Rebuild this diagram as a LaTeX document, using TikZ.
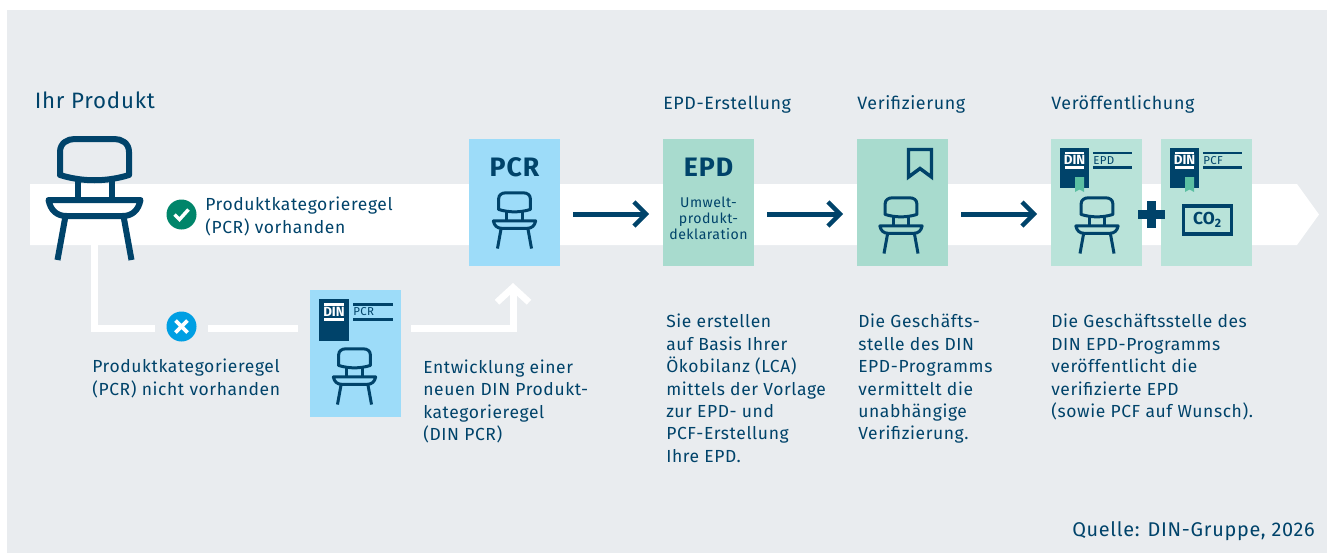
\documentclass[tikz,border=0pt]{standalone}
\usepackage{fontspec}
\setmainfont{Fira Sans}
\newfontfamily\din[LetterSpace=3.5]{Fira Sans}
\usetikzlibrary{arrows.meta}
\definecolor{din}{HTML}{00436A}
\definecolor{panel}{HTML}{E9ECEF}
\definecolor{sky}{HTML}{9DDCF9}
\definecolor{mint}{HTML}{A8DBCE}
\definecolor{palemint}{HTML}{B9E3D9}
\definecolor{tabgreen}{HTML}{5BBFA2}
\definecolor{okgreen}{HTML}{00856A}
\definecolor{nogblue}{HTML}{009FE3}
\tikzset{
  card/.style={minimum width=68.25pt,minimum height=95.25pt,inner sep=0pt,anchor=north west},
  head/.style={anchor=base west,inner sep=0pt,text=din,font=\din\fontsize{13.4}{16}\selectfont},
  copytext/.style={anchor=north west,inner sep=0pt,align=left,text=din,font=\din\fontsize{13.1}{16.8}\selectfont},
  bigtag/.style={inner sep=0pt,text=din,font=\din\fontsize{20}{24}\selectfont\bfseries},
  status/.style={circle,minimum size=22.5pt,inner sep=0pt},
  flowarrow/.style={draw=din,line width=3.75pt,-{Straight Barb[length=9pt,width=18pt,line width=3.2pt]}},
  branch/.style={draw=white,line width=5.25pt},
  pics/chair/.style={code={
    \draw[din,line join=round] (-34.5,39) -- (-34.5,16) .. controls (-34.5,7) and (-27,3) .. (-20,3) -- (20,3)
      .. controls (27,3) and (34.5,7) .. (34.5,16) -- (34.5,39) .. controls (12,46) and (-12,46) .. cycle;
    \draw[din] (-17,43) -- (-17,64) (17,43) -- (17,64);
    \draw[din,line join=round] (-46,64) -- (46,64) .. controls (44,74) and (38,80) .. (28,80) -- (-28,80)
      .. controls (-38,80) and (-44,74) .. cycle;
    \draw[din] (-29,80) -- (-37,124) (29,80) -- (37,124);
  }},
  pics/dinbadge/.style={code={
    \fill[din] (0,0) rectangle (30,42);
    \draw[white,line width=1.6pt] (5,5.5) -- (25,5.5) (5,20.5) -- (25,20.5);
    \draw[din,line width=1.6pt] (34,5.5) -- (74,5.5) (34,20.5) -- (74,20.5);
    \node[inner sep=0pt,text=white,font=\fontsize{10}{10}\selectfont\bfseries] (-din) at (15,13) {DIN};
    \node[anchor=west,inner sep=0pt,text=din,font=\din\fontsize{8.6}{9}\selectfont] (-tag) at (34,13) {#1};
  }},
  pics/doctab/.style={code={
    \fill[tabgreen] (0,0) -- (9,0) -- (9,15) -- (4.5,12.5) -- (0,15) -- cycle;
  }}
}
\begin{document}
\begin{tikzpicture}[x=.75pt,y=-.75pt]
\useasboundingbox (0,0) rectangle (1327,553);
\fill[panel] (7,10) rectangle (1327,553);
\fill[white] (30,184) -- (1297,184) -- (1319,214.5) -- (1297,245) -- (30,245) -- cycle;
% points on the white branch
\coordinate (b1) at (94.5,245);
\coordinate (b2) at (155,328);
\coordinate (b3) at (208,328);
\coordinate (b4) at (298,328);
\coordinate (b5) at (411,328);
\coordinate (b6) at (513,283);
\draw[branch] (b1) |- (b2);
\draw[branch] (b3) -- (b4);
\draw[branch,-{Straight Barb[length=11pt,width=24pt,line width=5pt]}] (b5) -| (b6);
% cards
\node[card,fill=sky] (pcr) at (469,139) {};
\node[card,fill=mint] (epd) at (663,139) {};
\node[card,fill=mint] (veri) at (857,139) {};
\node[card,fill=palemint] (pub1) at (1051,139) {};
\node[card,fill=palemint] (pub2) at (1161,139) {};
\node[card,fill=sky] (newpcr) at (310,290) {};
% arrows between the cards
\coordinate (a1) at (573,214);
\coordinate (a2) at (649,214);
\coordinate (a3) at (767,214);
\coordinate (a4) at (843,214);
\coordinate (a5) at (961,214);
\coordinate (a6) at (1037,214);
\draw[flowarrow] (a1) -- (a2);
\draw[flowarrow] (a3) -- (a4);
\draw[flowarrow] (a5) -- (a6);
% chairs
\pic[line width=4.5pt] at (94.5,136) {chair};
\pic[scale=.46,line width=2.25pt] at (514.5,191.5) {chair};
\pic[scale=.46,line width=2.25pt] at (901,196.5) {chair};
\pic[scale=.46,line width=2.25pt] at (1097,196.5) {chair};
\pic[scale=.46,line width=2.25pt] at (354.5,347.5) {chair};
% status marks
\node[status,fill=okgreen] (yes) at (181.5,214.5) {};
\draw[white,line width=2.6pt] (174.5,214.5) -- (179.5,219.5) -- (188.5,209.5);
\node[status,fill=nogblue] (no) at (181.5,326.5) {};
\draw[white,line width=2.8pt] (175.5,320.5) -- (187.5,332.5) (187.5,320.5) -- (175.5,332.5);
% headings
\node[head,font=\din\fontsize{16.7}{20}\selectfont] (product) at (34.5,108) {Ihr Produkt};
\node[head] (h1) at (663,109) {EPD-Erstellung};
\node[head] (h2) at (857,109) {Verifizierung};
\node[head] (h3) at (1051,109) {Veröffentlichung};
% card contents
\node[bigtag] (pcrtag) at (514.5,167) {PCR};
\node[bigtag] (epdtag) at (708.5,167) {EPD};
\node[inner sep=0pt,align=center,text=din,font=\din\fontsize{10.6}{12}\selectfont] (epdtext) at (708.5,218) {Umwelt-\\produkt-\\deklaration};
\draw[din,line width=2.6pt] (908.5,149.5) -- (931.5,149.5) -- (931.5,177) -- (920,168.5) -- (908.5,177) -- cycle;
\pic (doc0) at (319,299) {dinbadge=PCR};
\pic[xscale=.97,yscale=.95] (doc1) at (1060,148) {dinbadge=EPD};
\pic[xscale=.97,yscale=.95] (doc2) at (1170,148) {dinbadge=PCF};
\pic at (1075,177) {doctab};
\pic at (1185,177) {doctab};
% plus and co2
\draw[din,line width=6.5pt] (1138,214.5) -- (1165,214.5) (1151.5,201) -- (1151.5,228);
\node[draw=din,line width=2.6pt,minimum width=36pt,minimum height=21pt,inner sep=0pt,text=din,font=\fontsize{13}{15}\selectfont\bfseries] (co2) at (1207.5,220) {CO\textsubscript{2}};
% texts
\node[copytext] (t1) at (205,197) {Produktkategorieregel\\(PCR) vorhanden};
\node[copytext] (t2) at (92,359) {Produktkategorieregel\\(PCR) nicht vorhanden};
\node[copytext] (t3) at (423,359.5) {Entwicklung einer\\neuen DIN Produkt-\\kategorieregel\\(DIN PCR)};
\node[copytext] (t4) at (666,314) {Sie erstellen\\auf Basis Ihrer\\Ökobilanz (LCA)\\mittels der Vorlage\\zur EPD- und\\PCF-Erstellung\\Ihre EPD.};
\node[copytext] (t5) at (858,314) {Die Geschäfts-\\stelle des DIN\\EPD-Programms\\vermittelt die\\unabhängige\\Verifizierung.};
\node[copytext] (t6) at (1051,314) {Die Geschäftsstelle des\\DIN EPD-Programms\\veröffentlicht die\\verifizierte EPD\\(sowie PCF auf Wunsch).};
\node[anchor=base east,inner sep=0pt,text=din,font=\din\fontsize{14.9}{16}\selectfont] (source) at (1315,536) {Quelle: DIN-Gruppe, 2026};
\end{tikzpicture}
\end{document}
